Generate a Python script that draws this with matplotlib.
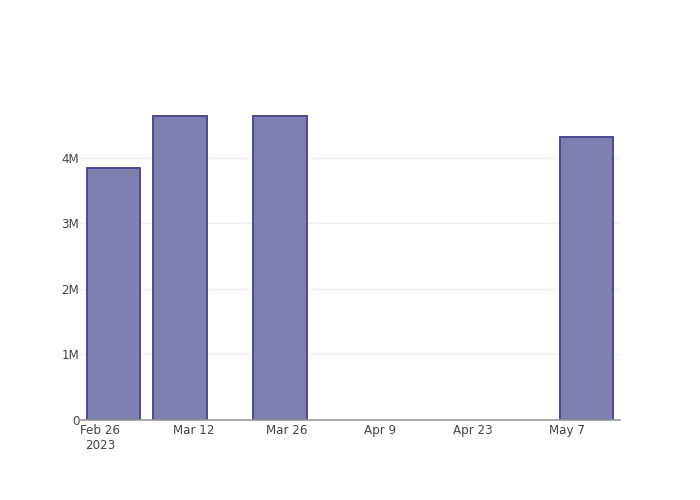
import matplotlib
matplotlib.use("Agg")
import matplotlib.pyplot as plt
import matplotlib.dates as mdates
import numpy as np
import datetime as dt

dates = ["2023-02-28", "2023-03-10", "2023-03-25", "2023-05-10"]
values = [3.85e6, 4.64e6, 4.64e6, 4.32e6]
tick_dates = ["2023-02-26", "2023-03-12", "2023-03-26", "2023-04-09", "2023-04-23", "2023-05-07"]
tick_labels = ["Feb 26\n2023", "Mar 12", "Mar 26", "Apr 9", "Apr 23", "May 7"]
y_ticks = [0, 1e6, 2e6, 3e6, 4e6]
y_labels = ["0", "1M", "2M", "3M", "4M"]

x = mdates.date2num([dt.date.fromisoformat(d) for d in dates])
xt = mdates.date2num([dt.date.fromisoformat(d) for d in tick_dates])

fig = plt.figure(figsize=(7, 5), dpi=100)
ax = fig.add_axes([80/700, 80/500, 540/700, 320/500])
ax.bar(x, values, width=8, facecolor=(0.5, 0.5, 0.69), edgecolor=(0.29, 0.29, 0.56), linewidth=1.4, zorder=3)
ax.set_xlim(x[0] - 5, x[-1] + 5)
ax.set_ylim(0, 4.885e6)
ax.set_xticks(xt)
ax.set_xticklabels(tick_labels, fontsize=8.6, color="#444444", linespacing=1.2)
ax.set_yticks(y_ticks)
ax.set_yticklabels(y_labels, fontsize=8.6, color="#444444")
ax.tick_params(axis="both", length=0)
ax.tick_params(axis="x", pad=3)
ax.tick_params(axis="y", pad=0.5)
ax.grid(axis="y", color="#eeeeee", linewidth=1, zorder=0)
for s in ["top", "right", "left"]:
    ax.spines[s].set_visible(False)
ax.spines["bottom"].set_color("#999999")
ax.spines["bottom"].set_linewidth(1.2)
ax.spines["bottom"].set_zorder(4)
fig.savefig("out.png", dpi=100)
